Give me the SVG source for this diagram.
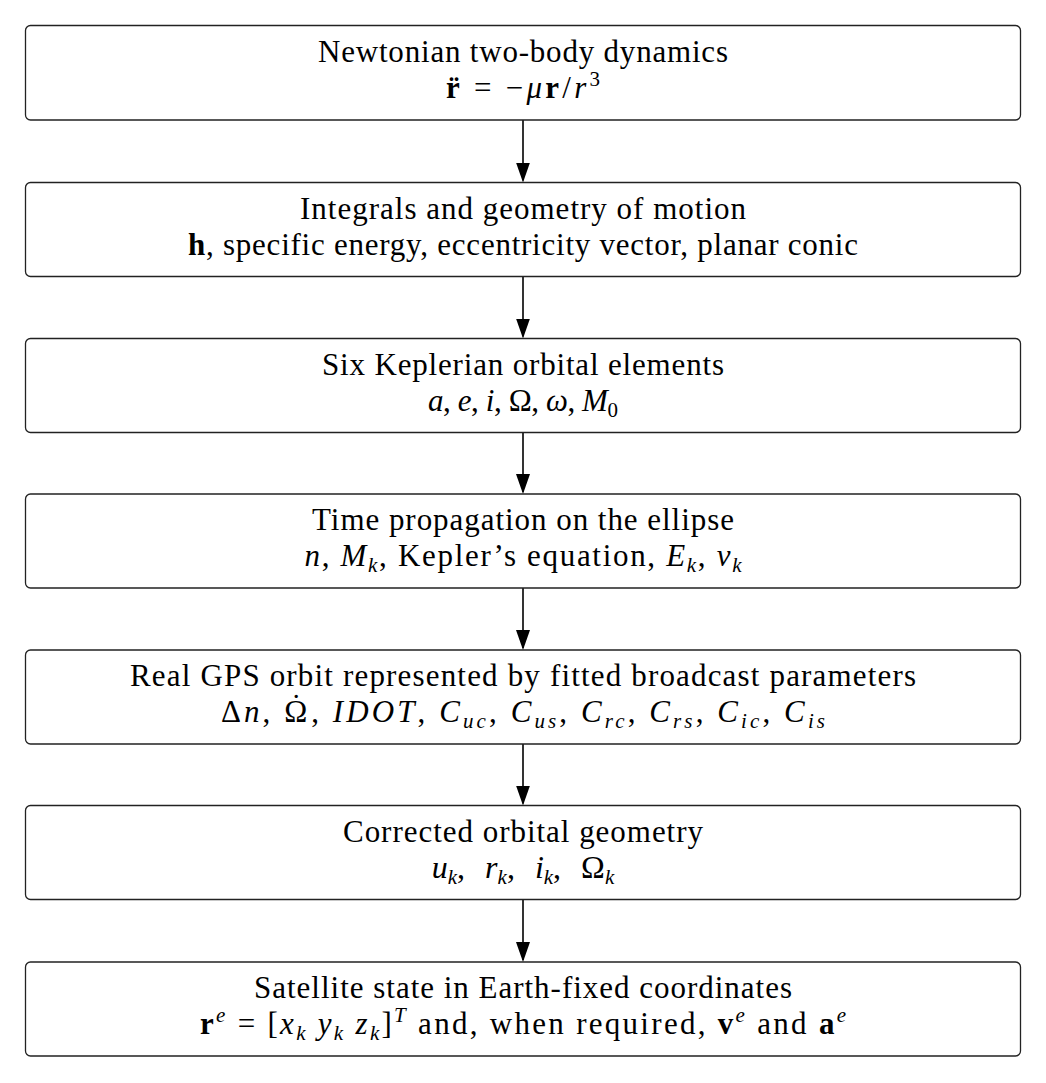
<svg xmlns="http://www.w3.org/2000/svg" width="1046" height="1083" viewBox="0 0 1046 1083">
<defs>
<style>
.box{fill:#fff;stroke:#222;stroke-width:1.3}
.t{font-family:"Liberation Serif","Times New Roman",serif;font-size:31px;fill:#000;text-anchor:middle}
.i{font-style:italic}
.b{font-weight:bold}
.s{font-size:21px}
.c{stroke:#000;stroke-width:1.6;fill:none}
</style>
<marker id="ah" markerUnits="userSpaceOnUse" viewBox="0 0 20 14" markerWidth="20" markerHeight="14" refX="18" refY="7" orient="auto">
<path d="M0,0 L20,7 L0,14 z" fill="#000"/>
</marker>
</defs>
<rect width="1046" height="1083" fill="#fff"/>
<g id="connectors">
<line class="c" x1="523" y1="120" x2="523" y2="180.5" marker-end="url(#ah)"/>
<line class="c" x1="523" y1="276.5" x2="523" y2="336.5" marker-end="url(#ah)"/>
<line class="c" x1="523" y1="432.5" x2="523" y2="492" marker-end="url(#ah)"/>
<line class="c" x1="523" y1="588" x2="523" y2="648" marker-end="url(#ah)"/>
<line class="c" x1="523" y1="744" x2="523" y2="803.5" marker-end="url(#ah)"/>
<line class="c" x1="523" y1="899.5" x2="523" y2="960" marker-end="url(#ah)"/>
</g>
<g id="node1">
<rect class="box" x="25.5" y="25.5" width="995" height="94.5" rx="5"/>
<text class="t" x="523" y="61.5" textLength="410" lengthAdjust="spacing">Newtonian two-body dynamics</text>
<text class="t" x="523" y="97.5" textLength="154" lengthAdjust="spacing"><tspan class="b">r̈</tspan> = −<tspan class="i">μ</tspan><tspan class="b">r</tspan>/<tspan class="i">r</tspan><tspan class="s" dy="-12">3</tspan></text>
</g>
<g id="node2">
<rect class="box" x="25.5" y="182.5" width="995" height="94" rx="5"/>
<text class="t" x="523" y="218.5" textLength="446" lengthAdjust="spacing">Integrals and geometry of motion</text>
<text class="t" x="523" y="254.5" textLength="670" lengthAdjust="spacing"><tspan class="b">h</tspan>, specific energy, eccentricity vector, planar conic</text>
</g>
<g id="node3">
<rect class="box" x="25.5" y="338.5" width="995" height="94" rx="5"/>
<text class="t" x="523" y="374.5" textLength="402" lengthAdjust="spacing">Six Keplerian orbital elements</text>
<text class="t" x="523" y="410.5" textLength="190" lengthAdjust="spacing"><tspan class="i">a</tspan>, <tspan class="i">e</tspan>, <tspan class="i">i</tspan>, Ω, <tspan class="i">ω</tspan>, <tspan class="i">M</tspan><tspan class="s" dy="6">0</tspan></text>
</g>
<g id="node4">
<rect class="box" x="25.5" y="494" width="995" height="94" rx="5"/>
<text class="t" x="523" y="530" textLength="422" lengthAdjust="spacing">Time propagation on the ellipse</text>
<text class="t" x="523" y="566" textLength="437" lengthAdjust="spacing"><tspan class="i">n</tspan>, <tspan class="i">M</tspan><tspan class="i s" dy="6">k</tspan><tspan dy="-6">, Kepler’s equation, </tspan><tspan class="i">E</tspan><tspan class="i s" dy="6">k</tspan><tspan dy="-6">, </tspan><tspan class="i">ν</tspan><tspan class="i s" dy="6">k</tspan></text>
</g>
<g id="node5">
<rect class="box" x="25.5" y="650" width="995" height="94" rx="5"/>
<text class="t" x="523" y="686" textLength="786" lengthAdjust="spacing">Real GPS orbit represented by fitted broadcast parameters</text>
<text class="t" x="523" y="722" textLength="604" lengthAdjust="spacing">Δ<tspan class="i">n</tspan>, Ω<tspan dx="-19.5" dy="-6">˙</tspan><tspan dx="6.8" dy="6">, </tspan><tspan class="i">IDOT</tspan>, <tspan class="i">C</tspan><tspan class="i s" dy="6">uc</tspan><tspan dy="-6">, </tspan><tspan class="i">C</tspan><tspan class="i s" dy="6">us</tspan><tspan dy="-6">, </tspan><tspan class="i">C</tspan><tspan class="i s" dy="6">rc</tspan><tspan dy="-6">, </tspan><tspan class="i">C</tspan><tspan class="i s" dy="6">rs</tspan><tspan dy="-6">, </tspan><tspan class="i">C</tspan><tspan class="i s" dy="6">ic</tspan><tspan dy="-6">, </tspan><tspan class="i">C</tspan><tspan class="i s" dy="6">is</tspan></text>
</g>
<g id="node6">
<rect class="box" x="25.5" y="805.5" width="995" height="94" rx="5"/>
<text class="t" x="523" y="842" textLength="360" lengthAdjust="spacing">Corrected orbital geometry</text>
<text class="t" x="523" y="878" style="font-size:32px;word-spacing:12px"><tspan class="i">u</tspan><tspan class="i s" dy="6">k</tspan><tspan dy="-6">, </tspan><tspan class="i">r</tspan><tspan class="i s" dy="6">k</tspan><tspan dy="-6">, </tspan><tspan class="i">i</tspan><tspan class="i s" dy="6">k</tspan><tspan dy="-6">, Ω</tspan><tspan class="i s" dy="6">k</tspan></text>
</g>
<g id="node7">
<rect class="box" x="25.5" y="962" width="995" height="94" rx="5"/>
<text class="t" x="523" y="998" textLength="538" lengthAdjust="spacing">Satellite state in Earth-fixed coordinates</text>
<text class="t" x="523" y="1034" textLength="646" lengthAdjust="spacing"><tspan class="b">r</tspan><tspan class="i s" dy="-12">e</tspan><tspan dy="12"> = [</tspan><tspan class="i">x</tspan><tspan class="i s" dy="6">k</tspan><tspan dy="-6"> </tspan><tspan class="i">y</tspan><tspan class="i s" dy="6">k</tspan><tspan dy="-6"> </tspan><tspan class="i">z</tspan><tspan class="i s" dy="6">k</tspan><tspan dy="-6">]</tspan><tspan class="i s" dy="-12">T</tspan><tspan dy="12"> and, when required, </tspan><tspan class="b">v</tspan><tspan class="i s" dy="-12">e</tspan><tspan dy="12"> and </tspan><tspan class="b">a</tspan><tspan class="i s" dy="-12">e</tspan></text>
</g>
</svg>
